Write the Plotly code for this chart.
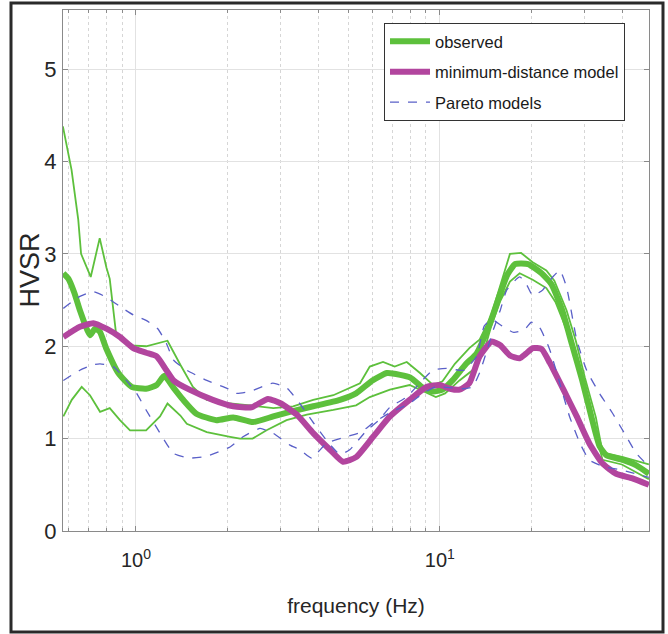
import math
import plotly.graph_objects as go

# ---------------- data ----------------
obs_f = [0.577, 0.60, 0.627, 0.654, 0.706, 0.733, 0.76, 0.80, 0.875, 0.968, 1.08, 1.17, 1.24, 1.33,
         1.43, 1.58, 1.84, 2.09, 2.43, 2.83, 3.21, 3.83, 4.69, 5.3, 6.0, 6.7, 7.4, 8.0, 8.8, 9.5,
         10.2, 11.0, 12.2, 13.2, 14.5, 15.8, 16.7, 17.7, 19.5, 21.6, 23.3, 25.2, 27.2, 29.4, 31.6,
         33.5, 35.3, 40.0, 44.3, 48.7]
obs_mean = [2.79, 2.73, 2.58, 2.39, 2.12, 2.19, 2.16, 1.97, 1.71, 1.56, 1.54, 1.58, 1.68, 1.55,
            1.42, 1.27, 1.20, 1.23, 1.18, 1.24, 1.29, 1.35, 1.42, 1.49, 1.63, 1.71, 1.69, 1.66, 1.55, 1.51,
            1.53, 1.63, 1.81, 1.92, 2.22, 2.57, 2.78, 2.89, 2.89, 2.79, 2.67, 2.40, 2.02, 1.63, 1.22,
            0.92, 0.82, 0.77, 0.71, 0.62]

obs_hi_f = [0.575, 0.614, 0.646, 0.66, 0.71, 0.76, 0.80, 0.82, 0.86, 0.955, 1.08, 1.27, 1.40, 1.54,
            1.71, 2.04, 2.37, 2.83, 3.29, 3.83, 4.46, 5.46, 5.88, 6.5, 7.1, 7.78, 8.6, 9.5, 10.2, 11.2,
            12.5, 13.5, 14.7, 15.8, 17.0, 18.5, 20.2, 22.4, 23.8, 26.1, 28.0, 30.0, 32.6, 34.3, 40.0, 48.7]
obs_hi = [4.38, 3.91, 3.37, 3.0, 2.75, 3.17, 2.85, 2.73, 2.14, 2.01, 2.0, 2.06, 1.80, 1.56,
          1.42, 1.38, 1.36, 1.33, 1.35, 1.42, 1.47, 1.60, 1.78, 1.83, 1.78, 1.83, 1.71, 1.58, 1.62, 1.81,
          1.98, 2.07, 2.32, 2.67, 3.00, 3.01, 2.91, 2.82, 2.71, 2.39, 2.06, 1.66, 1.23, 0.85, 0.80, 0.72]

obs_lo_f = [0.577, 0.615, 0.663, 0.706, 0.762, 0.82, 0.886, 0.956, 1.08, 1.20, 1.27, 1.40, 1.47, 1.71,
            2.04, 2.20, 2.42, 2.69, 3.13, 3.65, 4.46, 5.3, 5.88, 6.85, 7.95, 9.05, 9.7, 10.4, 11.6, 12.8,
            13.9, 14.7, 15.8, 17.0, 18.3, 20.2, 22.4, 24.0, 26.1, 28.2, 30.4, 32.6, 34.3, 39.7, 48.7]
obs_lo = [1.24, 1.42, 1.56, 1.47, 1.29, 1.33, 1.20, 1.09, 1.09, 1.24, 1.38, 1.25, 1.16, 1.07,
          1.02, 1.00, 1.00, 1.09, 1.20, 1.26, 1.31, 1.36, 1.45, 1.53, 1.58, 1.49, 1.45, 1.49, 1.63, 1.74,
          1.92, 2.20, 2.49, 2.70, 2.79, 2.72, 2.63, 2.48, 2.18, 1.82, 1.42, 1.02, 0.77, 0.72, 0.56]

mdm_f = [0.577, 0.654, 0.724, 0.80, 0.886, 0.98, 1.08, 1.17, 1.26, 1.33, 1.50, 1.79, 2.09, 2.40, 2.72,
         3.0, 3.38, 3.83, 4.35, 4.8, 5.3, 6.03, 6.85, 7.95, 9.05, 10.0, 10.8, 11.6, 12.5, 13.5,
         14.8, 15.8, 17.0, 18.3, 19.2, 20.2, 21.6, 23.0, 25.5, 28.2, 31.0, 34.3, 38.0, 43.0, 48.7]
mdm = [2.10, 2.21, 2.25, 2.19, 2.10, 1.98, 1.93, 1.89, 1.74, 1.63, 1.53, 1.42, 1.35, 1.34, 1.43,
       1.38, 1.26, 1.06, 0.88, 0.75, 0.80, 1.02, 1.24, 1.42, 1.56, 1.58, 1.54, 1.53, 1.60, 1.89,
       2.05, 2.01, 1.90, 1.87, 1.92, 1.98, 1.97, 1.82, 1.53, 1.24, 0.95, 0.73, 0.62, 0.57, 0.50]

par_a_f = [0.577, 0.654, 0.724, 0.80, 0.886, 0.98, 1.08, 1.18, 1.26, 1.33, 1.47, 1.71, 2.04, 2.14, 2.37,
           2.82, 3.13, 3.46, 3.82, 4.24, 4.69, 5.05, 5.75, 6.3, 6.85, 7.78, 8.58, 9.48, 10.5, 12.0,
           13.2, 14.0, 14.8, 16.0, 17.5, 19.0, 20.0, 21.3, 23.0, 24.8, 26.7, 28.9, 31.0, 34.3, 39.7, 48.7]
par_a = [2.41, 2.54, 2.59, 2.53, 2.43, 2.34, 2.28, 2.19, 2.03, 1.85, 1.74, 1.63, 1.53, 1.49, 1.51,
         1.60, 1.55, 1.38, 1.18, 0.98, 0.83, 0.88, 1.09, 1.20, 1.34, 1.45, 1.60, 1.74, 1.76, 1.74,
         1.89, 2.22, 2.29, 2.22, 2.15, 2.18, 2.26, 2.20, 1.96, 1.60, 1.24, 0.95, 0.77, 0.70, 0.66, 0.58]

par_b_f = [0.577, 0.654, 0.724, 0.762, 0.842, 0.93, 1.005, 1.08, 1.20, 1.33, 1.50, 1.71, 2.04, 2.25, 2.56,
           2.82, 3.21, 3.46, 3.78, 4.24, 4.93, 5.5, 6.03, 6.85, 7.95, 8.8, 9.7, 11.0, 11.9, 12.8,
           13.5, 14.3, 15.0, 15.8, 16.6, 18.3, 19.2, 20.2, 21.8, 23.5, 24.8, 26.1, 28.2, 30.4, 33.5,
           36.9, 41.1, 44.3, 48.7]
par_b = [1.63, 1.74, 1.80, 1.81, 1.78, 1.63, 1.49, 1.31, 1.06, 0.84, 0.79, 0.81, 0.91, 1.02, 1.11,
         1.06, 0.93, 0.88, 0.79, 0.95, 1.02, 1.07, 1.17, 1.28, 1.38, 1.49, 1.56, 1.55, 1.54, 1.56,
         1.71, 1.96, 2.18, 2.39, 2.61, 2.75, 2.68, 2.55, 2.61, 2.75, 2.82, 2.64, 2.07, 1.74, 1.49,
         1.28, 1.02, 0.84, 0.70]

x_major_vals = [1, 10]
x_major_text = ["10<sup>0</sup>", "10<sup>1</sup>"]
x_minor_vals = [0.6, 0.7, 0.8, 0.9, 2, 3, 4, 5, 6, 7, 8, 9, 20, 30, 40]
y_tick_vals = [0, 1, 2, 3, 4, 5]
x_limits = [0.5755, 48.75]
y_limits = [0, 5.64]
x_title = "frequency (Hz)"
y_title = "HVSR"

# ---------------- styling ----------------
GREEN = "#5dc03c"
MAGENTA = "#b2459e"
BLUE = "#5a60c8"
REG = "Liberation Sans, Arial, sans-serif"
AXC = "#8a8a8a"
TXT = "#262626"

fig = go.Figure()

fig.add_trace(go.Scatter(x=obs_f, y=obs_mean, mode="lines", name="observed",
                         legendgroup="g1", line=dict(color=GREEN, width=6, shape="spline", smoothing=0.5)))
fig.add_trace(go.Scatter(x=obs_hi_f, y=obs_hi, mode="lines", showlegend=False,
                         legendgroup="g1", line=dict(color=GREEN, width=1.8)))
fig.add_trace(go.Scatter(x=obs_lo_f, y=obs_lo, mode="lines", showlegend=False,
                         legendgroup="g1", line=dict(color=GREEN, width=1.8)))
fig.add_trace(go.Scatter(x=mdm_f, y=mdm, mode="lines", name="minimum-distance model",
                         legendgroup="g2", line=dict(color=MAGENTA, width=6, shape="spline", smoothing=0.5)))
fig.add_trace(go.Scatter(x=par_a_f, y=par_a, mode="lines", name="Pareto models",
                         legendgroup="g3", line=dict(color=BLUE, width=1.3, dash="dash",
                                                     shape="spline", smoothing=0.5)))
fig.add_trace(go.Scatter(x=par_b_f, y=par_b, mode="lines", showlegend=False,
                         legendgroup="g3", line=dict(color=BLUE, width=1.3, dash="dash",
                                                     shape="spline", smoothing=0.5)))

# plot-area pixel geometry
L, R, T, B = 63, 649, 10, 531
W, H = 668, 634
pw, ph = R - L, B - T

fig.update_layout(
    width=W, height=H,
    template="none",
    margin=dict(l=L, r=W - R, t=T, b=H - B, pad=0),
    paper_bgcolor="white", plot_bgcolor="white",
    showlegend=True,
    legend=dict(x=(384 - L) / pw, y=(B - 23) / ph, xanchor="left", yanchor="top",
                bgcolor="white", bordercolor="#333333", borderwidth=1,
                font=dict(family=REG, size=16.5, color="#1a1a1a"),
                itemwidth=40, tracegroupgap=6, traceorder="grouped"),
    xaxis=dict(type="log", range=[math.log10(x_limits[0]), math.log10(x_limits[1])],
               tickmode="array", tickvals=x_major_vals, ticktext=x_major_text,
               ticks="inside", ticklen=5, tickcolor=AXC, tickwidth=1,
               showline=True, linecolor=AXC, linewidth=1, mirror="ticks",
               showgrid=True, gridcolor="#e2e2e2", gridwidth=1,
               zeroline=False, automargin=False,
               tickfont=dict(family=REG, size=20, color=TXT),
               ticklabelstandoff=11,
               minor=dict(tickmode="array", tickvals=x_minor_vals, ticks="inside", ticklen=3,
                          tickcolor=AXC, showgrid=True, gridcolor="#d6d6d6", griddash="dot",
                          gridwidth=1),
               title=dict(text=x_title, font=dict(family=REG, size=21, color=TXT),
                          standoff=28)),
    yaxis=dict(range=y_limits, tickmode="array", tickvals=y_tick_vals,
               ticks="inside", ticklen=5, tickcolor=AXC, tickwidth=1,
               showline=True, linecolor=AXC, linewidth=1, mirror="ticks",
               showgrid=True, gridcolor="#e2e2e2", gridwidth=1,
               zeroline=False, automargin=False,
               tickfont=dict(family=REG, size=22, color=TXT),
               ticklabelstandoff=1),
    annotations=[dict(text=y_title, xref="paper", yref="paper", x=(29 - L) / pw, y=0.5,
                      xanchor="center", yanchor="middle", textangle=-90, showarrow=False,
                      font=dict(family=REG, size=27, color=TXT))],
    shapes=[dict(type="rect", xref="paper", yref="paper", layer="above",
                 x0=(11 - L) / pw, x1=(663 - L) / pw, y0=(B - 632) / ph, y1=(B - 3) / ph,
                 line=dict(color="#2a2a2a", width=3), fillcolor="rgba(0,0,0,0)")],
)

fig.write_html("out.html")
